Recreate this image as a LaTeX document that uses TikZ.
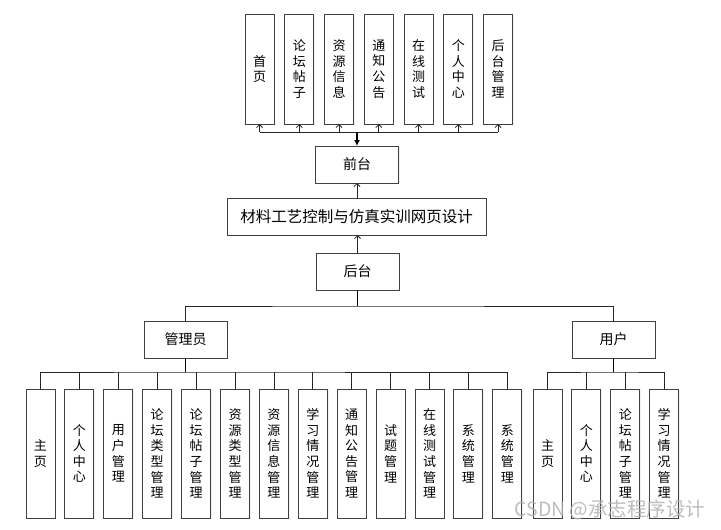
\documentclass[tikz,border=0pt]{standalone}
\usepackage{fontspec}
\newfontfamily\cjk{Noto Sans CJK SC}
\usetikzlibrary{arrows.meta,positioning,shadows}

\begin{document}
\begin{tikzpicture}[x=1pt,y=-1pt]

\useasboundingbox (0,0) rectangle (721,530);

\begin{scope}[box/.style={rectangle,draw=black!75,line width=.9pt,fill=white,inner sep=0,outer sep=0,drop shadow={shadow xshift=1.2pt,shadow yshift=-1.2pt,opacity=.12}},
topbox/.style={box,minimum width=29pt,minimum height=110pt,align=center,font=\cjk\fontsize{13}{15.6}\selectfont},
subbox/.style={box,minimum width=29pt,minimum height=129pt,align=center,font=\cjk\fontsize{13}{15.6}\selectfont},
midbox/.style={box,minimum width=83pt,minimum height=37pt,font=\cjk\fontsize{14}{16}\selectfont},
arc/.style={draw=black!85,line width=.8pt},
trunk/.style={draw=black,line width=1.5pt},
tip/.style={-{Straight Barb[length=3pt,width=6pt]}}]
% Nodes
\node[topbox] (t1) at (259.5,69) {首\\页};
\node[topbox,right=10.75pt of t1] (t2) {论\\坛\\帖\\子};
\node[topbox,right=10.75pt of t2] (t3) {资\\源\\信\\息};
\node[topbox,right=10.75pt of t3] (t4) {通\\知\\公\\告};
\node[topbox,right=10.75pt of t4] (t5) {在\\线\\测\\试};
\node[topbox,right=10.75pt of t5] (t6) {个\\人\\中\\心};
\node[topbox,right=10.75pt of t6] (t7) {后\\台\\管\\理};

\node[midbox] (qt) at (357,164.5) {前台};
\node[midbox,minimum width=259pt,font=\cjk\fontsize{15.5}{17}\selectfont] (tt) at (356.5,216.5) {材料工艺控制与仿真实训网页设计};
\node[midbox] (ht) at (357.5,271.5) {后台};
\node[midbox] (am) at (185.5,339.5) {管理员};
\node[midbox] (us) at (613.5,339.5) {用户};

\node[subbox] (a1) at (40.5,453.5) {主\\页};
\node[subbox,right=9.9pt of a1] (a2) {个\\人\\中\\心};
\node[subbox,right=9.9pt of a2] (a3) {用\\户\\管\\理};
\node[subbox,right=9.9pt of a3] (a4) {论\\坛\\类\\型\\管\\理};
\node[subbox,right=9.9pt of a4] (a5) {论\\坛\\帖\\子\\管\\理};
\node[subbox,right=9.9pt of a5] (a6) {资\\源\\类\\型\\管\\理};
\node[subbox,right=9.9pt of a6] (a7) {资\\源\\信\\息\\管\\理};
\node[subbox,right=9.9pt of a7] (a8) {学\\习\\情\\况\\管\\理};
\node[subbox,right=9.9pt of a8] (a9) {通\\知\\公\\告\\管\\理};
\node[subbox,right=9.9pt of a9] (a10) {试\\题\\管\\理};
\node[subbox,right=9.9pt of a10] (a11) {在\\线\\测\\试\\管\\理};
\node[subbox,right=9.9pt of a11] (a12) {系\\统\\管\\理};
\node[subbox,right=9.9pt of a12] (a13) {系\\统\\管\\理};

\node[subbox] (u1) at (547.5,453.5) {主\\页};
\node[subbox,right=9.9pt of u1] (u2) {个\\人\\中\\心};
\node[subbox,right=9.9pt of u2] (u3) {论\\坛\\帖\\子\\管\\理};
\node[subbox,right=9.9pt of u3] (u4) {学\\习\\情\\况\\管\\理};

\coordinate (fbus) at ([yshift=14pt]qt.north);
\coordinate (hbus) at ([yshift=-16pt]ht.south);
\coordinate (abus) at ([yshift=-14pt]am.south);
\coordinate (ubus) at ([yshift=-14pt]us.south);

%arcs
\draw[arc] (fbus -| t1) -- (fbus -| t7);
\path (fbus -| t1) edge[arc,tip] (t1);
\path (fbus -| t2) edge[arc,tip] (t2);
\path (fbus -| t3) edge[arc,tip] (t3);
\path (fbus -| t4) edge[arc,tip] (t4);
\path (fbus -| t5) edge[arc,tip] (t5);
\path (fbus -| t6) edge[arc,tip] (t6);
\path (fbus -| t7) edge[arc,tip] (t7);
\draw[trunk,-{Latex[length=6pt,width=6pt]}] (fbus) -- (qt);

\path (qt |- tt.north) edge[arc,tip] (qt);
\path (ht) edge[arc,tip] (ht |- tt.south);

\draw[trunk] (ht) -- (hbus);
\draw[arc] (am) |- (hbus) -| (us);

\draw[trunk] (am) -- (abus);
\draw[arc] (a1) |- (abus) -| (a13);
\path (abus -| a2) edge[arc] (a2);
\path (abus -| a3) edge[arc] (a3);
\path (abus -| a4) edge[arc] (a4);
\path (abus -| a5) edge[arc] (a5);
\path (abus -| a6) edge[arc] (a6);
\path (abus -| a7) edge[arc] (a7);
\path (abus -| a8) edge[arc] (a8);
\path (abus -| a9) edge[arc] (a9);
\path (abus -| a10) edge[arc] (a10);
\path (abus -| a11) edge[arc] (a11);
\path (abus -| a12) edge[arc] (a12);

\draw[trunk] (us) -- (ubus);
\draw[arc] (u1) |- (ubus) -| (u4);
\path (ubus -| u2) edge[arc] (u2);
\path (ubus -| u3) edge[arc] (u3);

\node[font=\cjk\fontsize{19.5}{20}\selectfont,text=gray!60,opacity=.85] (mark) at (610,510) {CSDN @承志程序设计};

\end{scope}

\end{tikzpicture}
\end{document}
